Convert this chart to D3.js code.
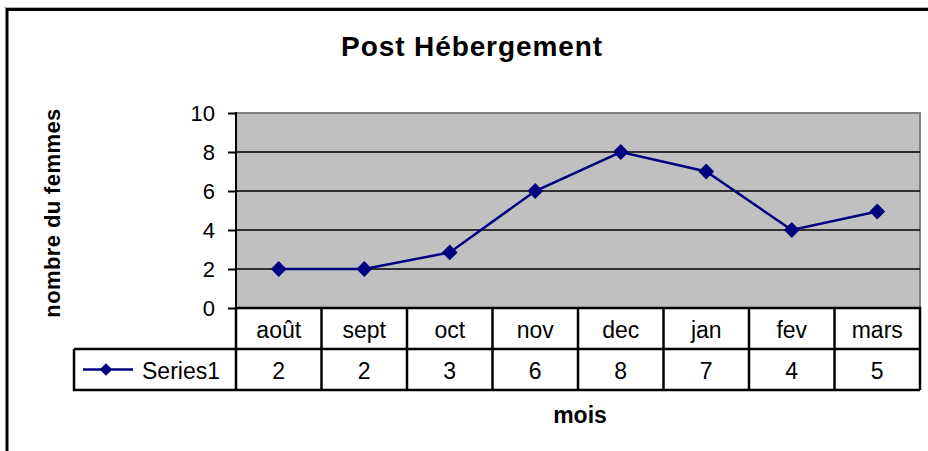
<!DOCTYPE html>
<html>
<head>
<meta charset="utf-8">
<script src="https://cdn.jsdelivr.net/npm/d3@7"></script>
<style>
  body { margin: 0; background: #fff; }
  svg { display: block; font-family: "Liberation Sans", Arial, sans-serif; }
</style>
</head>
<body>
<svg id="chart" width="928" height="451"></svg>
<script>
// data
var months = ['août', 'sept', 'oct', 'nov', 'dec', 'jan', 'fev', 'mars']
var values = [2, 2, 2.85, 6, 8, 7, 4, 4.95]
var tableLabels = ['2', '2', '3', '6', '8', '7', '4', '5']
var yTicks = [0, 2, 4, 6, 8, 10]
var seriesName = 'Series1'

var svg = d3.select('#chart')
var navy = '#000080'

var plot = { left: 236, right: 920, top: 113, bottom: 308 }
var rowH = 41
var legendLeft = 74

var x = d3.scaleBand()
          .domain(months)
          .range([plot.left, plot.right])
var y = d3.scaleLinear()
          .domain([0, 10])
          .range([plot.bottom, plot.top])

// outer frame
svg.append('line')
   .attr('x1', 4).attr('x2', 928).attr('y1', 7.5).attr('y2', 7.5)
   .attr('stroke', '#b0b0b0').attr('stroke-width', 1)
svg.append('path')
   .attr('d', 'M7,460 V9.5 H940')
   .attr('fill', 'none')
   .attr('stroke', '#000')
   .attr('stroke-width', 3)

// title
svg.append('text')
   .attr('x', 472).attr('y', 56)
   .attr('text-anchor', 'middle')
   .attr('font-size', 28).attr('font-weight', 'bold')
   .attr('letter-spacing', 0.9)
   .text('Post Hébergement')

// plot area
svg.append('rect')
   .attr('x', plot.left).attr('y', plot.top)
   .attr('width', plot.right - plot.left)
   .attr('height', plot.bottom - plot.top)
   .attr('fill', '#c0c0c0')
   .attr('stroke', '#808080')
   .attr('stroke-width', 2)

// gridlines
svg.append('g')
   .selectAll('line')
   .data(yTicks.filter(function (d) { return d > 0 && d < 10 }))
   .enter()
   .append('line')
   .attr('x1', plot.left).attr('x2', plot.right)
   .attr('y1', function (d) { return y(d) })
   .attr('y2', function (d) { return y(d) })
   .attr('stroke', '#000')
   .attr('stroke-width', 1.5)

// y axis
var yAxis = d3.axisLeft(y)
              .tickValues(yTicks)
              .tickSize(8)
              .tickPadding(13)
var gy = svg.append('g')
            .attr('transform', 'translate(' + plot.left + ',0)')
            .call(yAxis)
gy.select('.domain').remove()
gy.append('line')
  .attr('x1', 0).attr('x2', 0)
  .attr('y1', plot.top - 1).attr('y2', plot.bottom)
  .attr('stroke', '#000').attr('stroke-width', 2)
gy.selectAll('.tick line').attr('stroke', '#000').attr('stroke-width', 2)
gy.selectAll('.tick text')
  .attr('font-size', 22)
  .attr('font-family', '"Liberation Sans", Arial, sans-serif')
  .attr('fill', '#000')

// y title
svg.append('text')
   .attr('transform', 'translate(60,' + 213 + ') rotate(-90)')
   .attr('text-anchor', 'middle')
   .attr('font-size', 22).attr('font-weight', 'bold')
   .attr('letter-spacing', 0.4)
   .text('nombre du femmes')

// data table
var table = svg.append('g')
var row1 = plot.bottom
var row2 = plot.bottom + rowH
var row3 = plot.bottom + 2 * rowH

table.append('path')
     .attr('d', 'M' + plot.left + ',' + row1 + ' V' + row3 +
                ' M' + legendLeft + ',' + row2 + ' H' + plot.right +
                ' M' + legendLeft + ',' + row2 + ' V' + row3 + ' H' + plot.right +
                ' M' + plot.left + ',' + row1 + ' H' + plot.right + ' V' + row3)
     .attr('fill', 'none')
     .attr('stroke', '#000')
     .attr('stroke-width', 2.5)

table.selectAll('.sep')
     .data(months.slice(1))
     .enter()
     .append('line')
     .attr('class', 'sep')
     .attr('x1', function (d) { return x(d) })
     .attr('x2', function (d) { return x(d) })
     .attr('y1', row1).attr('y2', row3)
     .attr('stroke', '#000')
     .attr('stroke-width', 2.5)

table.selectAll('.cat')
     .data(months)
     .enter()
     .append('text')
     .attr('class', 'cat')
     .attr('x', function (d) { return x(d) + x.bandwidth() / 2 })
     .attr('y', row1 + 30)
     .attr('text-anchor', 'middle')
     .attr('font-size', 23)
     .text(function (d) { return d })

table.selectAll('.val')
     .data(tableLabels)
     .enter()
     .append('text')
     .attr('class', 'val')
     .attr('x', function (d, i) { return x(months[i]) + x.bandwidth() / 2 })
     .attr('y', row2 + 30)
     .attr('text-anchor', 'middle')
     .attr('font-size', 23)
     .text(function (d) { return d })

// legend key inside the table
var ly = row2 + rowH / 2
table.append('line')
     .attr('x1', 83).attr('x2', 133)
     .attr('y1', ly).attr('y2', ly)
     .attr('stroke', navy).attr('stroke-width', 2.5)
table.append('path')
     .attr('d', d3.symbol().type(d3.symbolSquare).size(80)())
     .attr('transform', 'translate(106,' + ly + ') rotate(45)')
     .attr('fill', navy)
table.append('text')
     .attr('x', 142).attr('y', row2 + 30)
     .attr('font-size', 23)
     .text(seriesName)

// series line
var line = d3.line()
             .x(function (d, i) { return x(months[i]) + x.bandwidth() / 2 })
             .y(function (d) { return y(d) })
svg.append('path')
   .datum(values)
   .attr('d', line)
   .attr('fill', 'none')
   .attr('stroke', navy)
   .attr('stroke-width', 2.5)

svg.append('g')
   .selectAll('path')
   .data(values)
   .enter()
   .append('path')
   .attr('d', d3.symbol().type(d3.symbolSquare).size(125)())
   .attr('transform', function (d, i) {
       return 'translate(' + (x(months[i]) + x.bandwidth() / 2) + ',' + y(d) + ') rotate(45)'
   })
   .attr('fill', navy)

// x title
svg.append('text')
   .attr('x', 580).attr('y', 423)
   .attr('text-anchor', 'middle')
   .attr('font-size', 23).attr('font-weight', 'bold')
   .text('mois')
</script>
</body>
</html>
